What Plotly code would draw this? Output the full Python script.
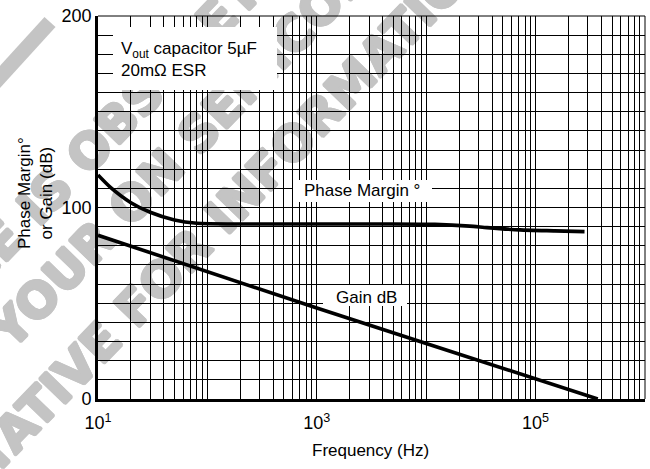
import plotly.graph_objects as go

# ---------------- data ----------------
phase_freq = [10, 13, 20, 30, 50, 80, 200, 1000, 5000, 12000, 25000, 36000, 72000, 150000, 280000]
phase_deg = [117, 110.5, 102.5, 97.5, 93.5, 91.8, 91.4, 91.4, 91.4, 91.2, 90.3, 89.5, 88.3, 87.8, 87.4]

gain_freq = [10, 100, 1000, 10000, 100000, 370000]
gain_db = [85.5, 66.5, 47.5, 29, 10.5, 0]

x_grid_vals = [m * 10 ** e for e in range(1, 6) for m in range(1, 10)] + [10 ** 6]
x_label_map = {10: "10<sup>1</sup>", 1000: "10<sup>3</sup>", 100000: "10<sup>5</sup>"}
y_grid_vals = list(range(0, 201, 10))
y_label_map = {0: "0", 100: "100", 200: "200"}

x_title = "Frequency (Hz)"
y_title = "Phase Margin°<br>or Gain (dB)"
note_text = "V<sub>out</sub> capacitor 5µF<br>20mΩ ESR"
phase_label = "Phase Margin °"
gain_label = "Gain dB"
watermark_lines = ["DEVICE IS OBSOLETE",
                   "CONTACT YOUR ON SEMICONDUCTOR",
                   "REPRESENTATIVE FOR INFORMATION"]

# ---------------- layout geometry ----------------
W, H = 650, 469
L, R, T, B = 98, 645, 16, 399
FONT = "Liberation Sans, Arial, Helvetica, sans-serif"
WM_FONT = "DejaVu Sans"
WM_COLOR = "#c4c4c4"
WM_ANGLE = -46
WM_SIZE = 49
WM_SHADOW = ", ".join(f"{dx}px {dy}px 0 {WM_COLOR}"
                      for dx, dy in [(1.5, 0), (-1.5, 0), (0, 1.5), (0, -1.5),
                                     (1, 1), (-1, -1), (1, -1), (-1, 1)])


def px(x):
    return (x - L) / (R - L)


def py(y):
    return (B - y) / (B - T)


fig = go.Figure()
fig.add_trace(go.Scatter(x=phase_freq, y=phase_deg, mode="lines",
                         line=dict(color="black", width=3.6, shape="spline", smoothing=0.6),
                         hoverinfo="skip", showlegend=False))
fig.add_trace(go.Scatter(x=gain_freq, y=gain_db, mode="lines",
                         line=dict(color="black", width=3.6),
                         hoverinfo="skip", showlegend=False))

shapes = []
# watermark (drawn under the grid)
wm_centers = [(73, 163), (164, 164), (131, 306)]
for text, (cx, cy) in zip(watermark_lines, wm_centers):
    shapes.append(dict(type="line", xref="paper", yref="paper", layer="below",
                       x0=px(cx - 5), y0=py(cy), x1=px(cx + 5), y1=py(cy),
                       line=dict(width=1, color="rgba(0,0,0,0)"),
                       label=dict(text="<b>" + text + "</b>", textangle=WM_ANGLE,
                                  textposition="middle", xanchor="center", yanchor="middle",
                                  padding=0,
                                  font=dict(family=WM_FONT, size=WM_SIZE, color=WM_COLOR,
                                            weight="bold", shadow=WM_SHADOW))))
shapes.append(dict(type="line", xref="paper", yref="paper", layer="below",
                   x0=px(-12), y0=py(90), x1=px(50), y1=py(22),
                   line=dict(width=15, color=WM_COLOR)))

# white boxes behind labels
for (x0, y0, x1, y1) in [(113, 27, 277, 90), (293, 180, 432, 202), (323, 285, 407, 306)]:
    shapes.append(dict(type="rect", xref="paper", yref="paper", layer="above",
                       x0=px(x0), x1=px(x1), y0=py(y1), y1=py(y0),
                       fillcolor="white", line=dict(width=0)))
# thin top/right frame
shapes.append(dict(type="line", xref="paper", yref="paper", layer="above",
                   x0=0, x1=1, y0=1, y1=1, line=dict(color="black", width=1)))
shapes.append(dict(type="line", xref="paper", yref="paper", layer="above",
                   x0=1, x1=1, y0=0, y1=1, line=dict(color="black", width=1)))

annotations = [
    dict(text=note_text, xref="paper", yref="paper", x=px(119), y=py(59.5),
         xanchor="left", yanchor="middle", align="left", showarrow=False,
         font=dict(family=FONT, size=17, color="black")),
    dict(text=phase_label, xref="paper", yref="paper", x=px(362), y=py(191),
         xanchor="center", yanchor="middle", showarrow=False,
         font=dict(family=FONT, size=17, color="black")),
    dict(text=gain_label, xref="paper", yref="paper", x=px(366), y=py(297),
         xanchor="center", yanchor="middle", showarrow=False,
         font=dict(family=FONT, size=17, color="black")),
    dict(text=x_title, xref="paper", yref="paper", x=px(370), y=py(450),
         xanchor="center", yanchor="middle", showarrow=False,
         font=dict(family=FONT, size=17, color="black")),
    dict(text=y_title, xref="paper", yref="paper", x=px(35), y=py(193),
         xanchor="center", yanchor="middle", showarrow=False, textangle=-90,
         font=dict(family=FONT, size=17, color="black")),
]

fig.update_layout(
    width=W, height=H,
    margin=dict(l=L, r=W - R, t=T, b=H - B, pad=0),
    paper_bgcolor="white", plot_bgcolor="white",
    showlegend=False,
    shapes=shapes, annotations=annotations,
    font=dict(family=FONT, size=17, color="black"),
    xaxis=dict(type="log", range=[1, 6], tickmode="array",
               tickvals=x_grid_vals,
               ticktext=[x_label_map.get(v, "") for v in x_grid_vals],
               showgrid=True, gridcolor="black", gridwidth=1.2,
               showline=True, linecolor="black", linewidth=2.6,
               ticks="", ticklabelstandoff=6, zeroline=False,
               tickfont=dict(size=18, color="black")),
    yaxis=dict(range=[0, 200], tickmode="array",
               tickvals=y_grid_vals,
               ticktext=[y_label_map.get(v, "") for v in y_grid_vals],
               showgrid=True, gridcolor="black", gridwidth=1.2,
               showline=True, linecolor="black", linewidth=2.6,
               ticks="", zeroline=False, tickfont=dict(size=18, color="black")),
)

fig.write_html("out.html",
               config={"displayModeBar": False},
               post_script="document.body.style.margin='0';document.body.style.overflow='hidden';")
